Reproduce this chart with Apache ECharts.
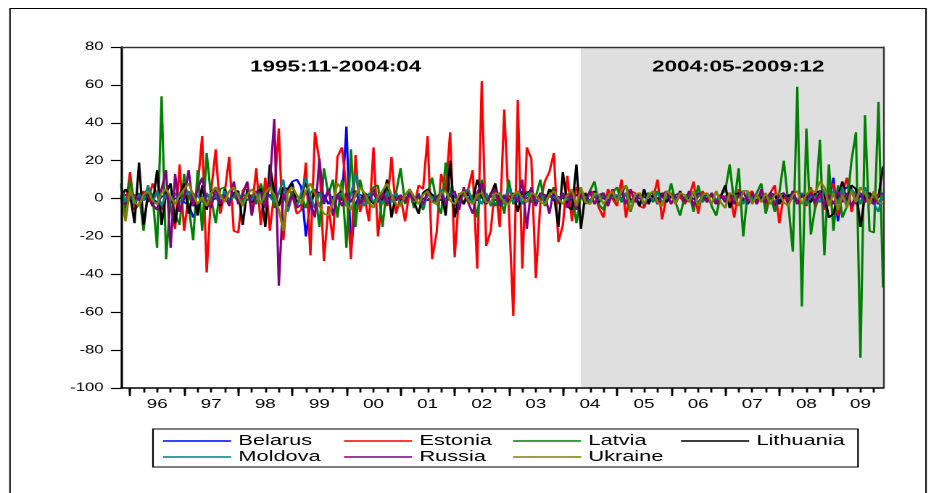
<!DOCTYPE html>
<html>
<head>
<meta charset="utf-8">
<script src="https://cdn.jsdelivr.net/npm/echarts/dist/echarts.min.js"></script>
<style>
  html, body { margin: 0; padding: 0; background: #fff; overflow: hidden; }
  #wrap { width: 931px; height: 493px; overflow: hidden; position: relative; }
  #chart { width: 642px; height: 493px; transform: scaleX(1.450156); transform-origin: 0 0; }
</style>
</head>
<body>
<div id="wrap"><div id="chart"></div></div>
<script>
// ---- categories: monthly 1995:11 .. 2009:12 ----
const months = [];
for (let y = 1995, m = 11; y < 2010;) {
  months.push(y + ':' + String(m).padStart(2, '0'));
  m++; if (m > 12) { m = 1; y++; }
}
const yearTicks = ['96','97','98','99','00','01','02','03','04','05','06','07','08','09'];
const periodTitles = ['1995:11-2004:04', '2004:05-2009:12'];
const shadeFrom = '2004:05', shadeTo = '2009:12';

// ---- series values (per year: 95 (Nov-Dec), 96 .. 09) ----
const belarus = [
  [1, 2],
  [1, 0, 2, -1, 1, 0, -2, 1, 2, -1, 0, 1],
  [-2, -3, -10, -4, 1, 2, -1, 0, 2, 1, -1, 2],
  [1, -1, 2, 0, 1, -2, 1, 2, -1, 3, 2, 5],
  [9, 10, 6, -20, -2, 3, -4, 2, -3, 1, 2, -1],
  [38, -28, -3, 2, 1, -1, 5, 0, 2, 1, 2, -1],
  [1, 0, 2, -1, 1, 0, -1, 2, 1, -1, 0, 1],
  [1, -1, 2, 0, 1, -1, 1, 0, 2, -1, 1, 0],
  [1, 2, -1, 1, 0, 2, -1, 1, 0, 2, -1, 1],
  [0, 1, -1, 2, 1, 0, -1, 1, 2, 0, -1, 1],
  [1, 0, 2, -1, 1, 0, 1, -1, 2, 0, 1, -1],
  [1, 0, 2, -1, 1, 0, -2, 1, 0, 2, -1, 1],
  [0, 1, -1, 2, 0, -3, 1, 2, -1, 1, 0, 2],
  [-1, 1, 2, 0, -1, 1, 2, 0, -2, 1, 3, -2],
  [11, -12, 4, 6, 5, -3, 2, -2, 3, 1, -3, 2]
].flat();

const estonia = [
  [2, -5],
  [14, -6, -3, 4, -2, 8, 2, -6, 5, -4, -16, 18],
  [-17, 2, -4, 6, 33, -39, 4, 26, -8, 3, 22, -17],
  [-18, 4, 8, -6, 16, -14, 11, -17, 3, 37, -22, 5],
  [2, -8, -6, 19, -30, 35, 20, -33, -4, -22, 22, 27],
  [5, -32, 23, -7, 1, -12, 27, -20, 3, -4, 22, -8],
  [1, -12, 4, -5, 7, 5, 33, -32, -18, 13, 4, 35],
  [-31, 3, -3, 5, 15, -37, 62, -25, -17, 8, -15, 47],
  [-5, -62, 52, -37, 27, 21, -42, -2, 9, 14, 24, -23],
  [-14, 12, -12, 6, 5, -3, 4, 3, -5, -10, 5, 0],
  [-4, 10, -10, 4, 3, -4, -5, 2, 0, 10, -11, 1],
  [3, -1, 1, -3, 1, 9, -8, 4, -2, 3, -3, 2],
  [1, 3, -10, 5, -2, 2, 4, -3, 2, -4, 3, 7],
  [-13, 2, -3, 4, -2, 3, -4, 6, -5, 3, -6, 5],
  [8, -9, 3, 11, -7, 2, -2, 3, -3, 1, 2, -1]
].flat();

const latvia = [
  [8, -11],
  [10, -2, 3, -17, 5, 2, -26, 54, -32, 1, -8, -14],
  [13, -4, -22, 15, -17, 24, 0, -13, 5, 6, -3, 2],
  [-2, 3, -1, 2, -3, 8, -2, 11, -5, 3, 2, -4],
  [4, -3, 2, -5, 3, 5, -15, 16, 2, 10, -10, 10],
  [-26, 26, -15, 10, 0, -3, 6, 7, -15, 7, -2, 3],
  [16, -3, 5, -5, 2, -6, 3, 11, -2, -8, 19, 4],
  [-4, 1, 3, -2, 2, -10, 10, -2, 3, -4, 2, -8],
  [10, -3, 2, -3, 4, -2, 1, 10, -4, 2, 6, -3],
  [2, -4, 3, -13, 2, -3, 4, 9, -3, -6, 2, 3],
  [6, -2, 3, -7, 1, -3, 2, 3, -2, 4, 1, -2],
  [8, -2, -9, 1, 3, -7, 7, -2, 3, -4, -9, 2],
  [4, 18, -3, 16, -20, 4, -2, 3, 8, -8, 2, -7],
  [3, 20, -3, -28, 59, -57, 37, -19, -4, 31, -30, 18],
  [-17, 7, -10, -4, 20, 35, -84, 44, -17, -18, 51, -47]
].flat();

const lithuania = [
  [0, 5],
  [2, -13, 19, -14, 2, -4, 15, -14, 3, 8, -13, 2],
  [8, -8, 3, -9, 7, -6, 4, 2, -4, 5, -2, 3],
  [4, -14, 5, -2, 3, 5, -15, 18, 3, -4, 6, 5],
  [8, -3, 2, 9, -3, 4, 3, -2, 5, -3, 2, 4],
  [-4, 3, 4, -2, 3, 1, -3, 2, -2, 10, -10, 3],
  [-2, 2, 4, -2, -8, 3, 5, 2, -3, 4, -9, 20],
  [-10, 2, -3, 3, -2, 10, 1, -3, 2, 8, -4, 2],
  [-2, 3, -7, 4, 2, 5, -3, 2, -2, 5, 2, -15],
  [14, -4, -6, 18, -16, 3, -3, 4, -2, 3, -3, 2],
  [-2, 3, 7, -2, 1, -4, 5, -3, 2, -1, 3, -2],
  [2, -3, 4, -2, 1, 3, -4, 2, -1, 2, -3, 1],
  [7, -5, 2, 3, -2, 1, 2, -1, 1, -2, 3, 2],
  [-3, 2, 1, 3, -2, 2, 1, -2, 3, 4, 2, -10],
  [-8, 2, 9, -3, 7, 5, -15, 2, 3, -2, 1, 17]
].flat();

const moldova = [
  [6, -2],
  [3, -3, 2, -1, 7, -2, 4, -4, 2, -1, 3, -2],
  [1, 4, -3, 2, -2, 3, -1, 2, -3, 4, -2, 1],
  [3, -2, 2, -1, 3, -3, 2, 1, -2, 3, 10, -7],
  [2, -4, 3, 11, 1, -5, 3, -2, 4, -3, 2, 3],
  [-4, 2, 13, 0, -4, 3, -2, 2, -3, 4, -2, 3],
  [-3, 2, 4, -2, 3, -4, 2, 1, -3, 5, -2, 3],
  [2, -3, 3, 5, -2, 1, -3, 3, -4, 2, 3, -3],
  [6, -2, 3, -3, 2, 4, -2, 3, -3, 2, 1, -2],
  [3, -1, 2, -3, 2, 1, -2, 3, -1, 2, -2, 1],
  [2, -1, 3, -2, 1, 2, -3, 2, -1, 3, -2, 1],
  [2, -2, 3, -1, 2, -3, 1, 2, -2, 3, -1, 2],
  [-2, 3, -1, 2, -3, 2, 1, -2, 3, -1, 2, -2],
  [1, 3, -2, 2, -1, 3, -3, 2, 1, -2, 5, -3],
  [4, -3, 6, -4, 5, 2, -3, 6, -2, -3, -7, 3]
].flat();

const russia = [
  [-2, -3],
  [0, 2, -1, 3, 1, -3, -6, 5, 15, -26, 13, -7],
  [0, 15, -4, 5, 11, -2, -5, 6, -3, 2, -4, 9],
  [-3, 2, 9, -9, 4, 3, -5, 8, 42, -46, 3, -4],
  [2, -5, -3, 4, -2, -10, 21, -3, 5, -9, 2, -4],
  [3, -2, 4, -3, 2, -1, 3, -2, 4, -3, 2, -1],
  [2, -2, 3, -1, 2, -3, 4, -2, 1, 3, -3, 2],
  [4, -6, 6, -2, -8, 3, 8, -3, 2, 5, -4, 2],
  [-3, 2, -2, 10, -16, 6, -4, 3, 2, -8, 5, -2],
  [3, -5, 4, -6, 3, -2, 4, -3, 2, 3, -4, 5],
  [-2, 4, -3, 5, -2, 3, -4, 2, 3, -3, 2, 4],
  [-3, 2, 3, -2, 4, -4, 3, 1, -2, 3, -3, 2],
  [-2, 3, -3, 2, 4, -2, 3, -3, 5, -2, 3, -4],
  [2, 3, -2, 4, -3, 2, -1, 3, -2, 4, -4, 2],
  [-3, 4, -2, 3, -4, 2, 3, -2, 1, -3, 2, 3]
].flat();

const ukraine = [
  [1, -12],
  [5, -2, -4, 2, 4, -1, -3, 3, 5, 1, -3, 2],
  [5, 8, 2, -3, 1, -4, 3, 6, 2, -2, 4, 6],
  [1, -4, 2, 5, 2, -3, 3, 6, 2, -6, -17, 3],
  [6, 2, -3, 4, 8, 3, -4, -8, -9, -2, 8, 5],
  [-3, -6, 2, 6, 3, -2, -5, 1, 4, 8, 2, -3],
  [-4, 2, 5, 1, -3, 2, 4, -2, -3, 3, 4, -1],
  [-3, 2, 4, -1, -3, 2, 3, -2, -2, 3, 2, -2],
  [-3, 2, 4, 0, -2, 3, 2, -2, -3, 2, 4, 0],
  [-3, 2, 5, -4, 6, -2, -3, 3, 2, -3, 1, 4],
  [-2, 4, 7, -6, 2, 3, -3, 2, 4, -2, -4, 4],
  [2, -3, 3, 2, -2, 4, -4, 2, 3, -3, 4, -2],
  [-5, 3, 2, -4, 4, 4, -3, 2, -2, 3, -3, 2],
  [3, -2, -4, 2, 4, -3, 2, 5, 3, 9, 6, -4],
  [3, -6, 2, -5, 4, -2, 6, 3, -3, 4, -2, -3]
].flat();

const seriesNames = ['Belarus', 'Estonia', 'Latvia', 'Lithuania', 'Moldova', 'Russia', 'Ukraine'];
const seriesData = [belarus, estonia, latvia, lithuania, moldova, russia, ukraine];
const seriesColors = ['#0000FF', '#FF0000', '#008000', '#000000', '#008080', '#800080', '#808000'];

// ---- layout (unscaled coordinates; the canvas is stretched horizontally) ----
const S = 931 / 642;
const X = v => v / S;
const legendPos = [
  [163, 441], [344, 441], [513, 441], [681, 441],
  [163, 457], [344, 457], [513, 457]
];

const chart = echarts.init(document.getElementById('chart'), null, { renderer: 'canvas', devicePixelRatio: 2 });
const FONT = '"Liberation Sans", Arial, sans-serif';

const option = {
  animation: false,
  backgroundColor: '#ffffff',
  textStyle: { fontFamily: FONT },
  title: [
    { text: periodTitles[0], left: X(250), top: 59, padding: 0,
      textStyle: { fontSize: 15.5, fontWeight: 'bold', color: '#000', fontFamily: FONT } },
    { text: periodTitles[1], left: X(652), top: 59, padding: 0,
      textStyle: { fontSize: 15.5, fontWeight: 'bold', color: '#000', fontFamily: FONT } }
  ],
  grid: { left: X(121), right: 642 - X(883), top: 47, bottom: 105, show: false },
  xAxis: [
    {
      type: 'category', data: months, boundaryGap: false, position: 'bottom', z: 5,
      axisLine: { show: true, onZero: false, lineStyle: { color: '#000', width: 1.6 } },
      axisTick: { show: true, length: 8, interval: (i, v) => v.endsWith(':01'), lineStyle: { color: '#000', width: 1.4 } },
      axisLabel: { show: true, interval: (i, v) => v.endsWith(':07'),
        formatter: v => yearTicks[parseInt(v, 10) - 1996],
        fontSize: 13, color: '#000', margin: 10, fontFamily: FONT },
      splitLine: { show: false }
    },
    {
      type: 'category', data: months, boundaryGap: false, position: 'bottom', z: 5,
      axisLine: { show: false, onZero: false },
      axisTick: { show: true, length: 4.5, interval: (i, v) => /:(01|04|07|10)$/.test(v), lineStyle: { color: '#000', width: 1.4 } },
      axisLabel: { show: false }, splitLine: { show: false }
    },
    {
      type: 'category', data: months, boundaryGap: false, position: 'top', z: 5,
      axisLine: { show: true, onZero: false, lineStyle: { color: '#333', width: 1.4 } },
      axisTick: { show: false }, axisLabel: { show: false }, splitLine: { show: false }
    }
  ],
  yAxis: [
    {
      type: 'value', min: -100, max: 80, interval: 20, position: 'left', z: 5,
      axisLine: { show: true, onZero: false, lineStyle: { color: '#000', width: 1.6 } },
      axisTick: { show: true, length: 7, lineStyle: { color: '#000', width: 1.2 } },
      axisLabel: { fontSize: 11.5, color: '#000', margin: 12, fontFamily: FONT },
      splitLine: { show: false }
    },
    {
      type: 'value', min: -100, max: 80, interval: 20, position: 'right', z: 5,
      axisLine: { show: true, onZero: false, lineStyle: { color: '#333', width: 1.2 } },
      axisTick: { show: false }, axisLabel: { show: false }, splitLine: { show: false }
    }
  ],
  legend: seriesNames.map((n, k) => ({
    data: [n], left: X(legendPos[k][0]), top: legendPos[k][1] - 7.5, padding: 0,
    itemWidth: 47, itemHeight: 1.4, icon: 'rect', selectedMode: false,
    textStyle: { fontSize: 15, color: '#000', fontFamily: FONT, lineHeight: 15 }
  })),
  graphic: [
    { type: 'rect', shape: { x: X(153), y: 429, width: X(858) - X(153), height: 38 },
      style: { fill: null, stroke: '#000', lineWidth: 1.1 }, silent: true },
    { type: 'polyline', shape: { points: [[X(10), 493], [X(10), 8.5], [X(926), 8.5], [X(926), 493]] },
      style: { fill: null, stroke: '#000', lineWidth: 1 }, silent: true }
  ],
  series: [
    {
      name: 'shade', type: 'line', data: months.map(() => null), z: 1, silent: true,
      symbol: 'none', lineStyle: { opacity: 0 },
      markArea: { silent: true, itemStyle: { color: '#DFDFDF' },
        data: [[{ xAxis: shadeFrom }, { xAxis: shadeTo }]] }
    }
  ].concat(seriesNames.map((n, k) => ({
    name: n, type: 'line', data: seriesData[k], z: 2,
    symbol: 'none', showSymbol: false, color: seriesColors[k],
    lineStyle: { width: 1.6, color: seriesColors[k] },
    emphasis: { disabled: true }
  })))
};
chart.setOption(option);
</script>
</body>
</html>
